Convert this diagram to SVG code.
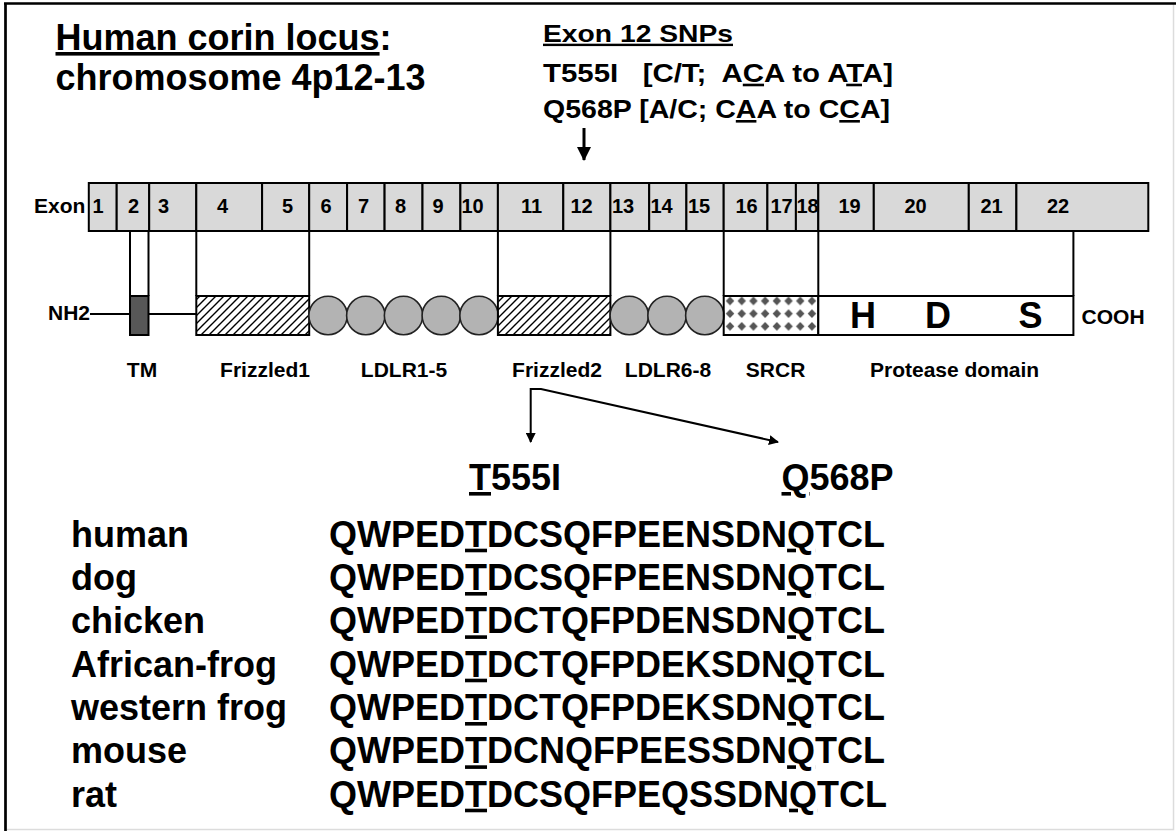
<svg xmlns="http://www.w3.org/2000/svg" width="1176" height="831" viewBox="0 0 1176 831">
<style>
text{font-family:"Liberation Sans",Arial,sans-serif;font-weight:bold;fill:#000}
.ex{font-size:20px;text-anchor:middle}
.lab{font-size:21px;text-anchor:middle}
.seq{font-size:36px}
.ln{stroke:#000;stroke-width:2;fill:none}
.cell{fill:#d9d9d9;stroke:#000;stroke-width:2}
.box{stroke:#000;stroke-width:2}
.u{text-decoration:underline}
</style>
<defs>
<pattern id="hatch" patternUnits="userSpaceOnUse" width="8" height="8">
<path d="M-2,2 L2,-2 M0,8 L8,0 M6,10 L10,6" stroke="#000" stroke-width="1.4"/>
</pattern>
<pattern id="diam" patternUnits="userSpaceOnUse" x="724.2" y="294.6" width="11.7" height="12.7">
<polygon points="5.85,1.9 10.1,6.35 5.85,10.8 1.6,6.35" fill="#555"/>
</pattern>
<marker id="ah" markerWidth="10" markerHeight="10" refX="9" refY="5" orient="auto" markerUnits="userSpaceOnUse">
<path d="M0,0 L10,5 L0,10 z" fill="#000"/>
</marker>
<marker id="ahb" markerWidth="14" markerHeight="14" refX="13" refY="7" orient="auto" markerUnits="userSpaceOnUse">
<path d="M0,0 L14,7 L0,14 z" fill="#000"/>
</marker>
</defs>
<rect x="0" y="0" width="1176" height="831" fill="#fff"/>
<rect x="5.5" y="3.5" width="1168" height="826" fill="none" stroke="#dcdcdc" stroke-width="1.5"/>
<path d="M5.5,3.5 V831 M4,3.5 H1176" stroke="#000" stroke-width="2.7" fill="none"/>

<g id="title">
<text x="55.5" y="50" font-size="36"><tspan class="u">Human corin locus</tspan>:</text>
<text x="55.5" y="90" font-size="36">chromosome 4p12-13</text>
</g>

<g id="snps">
<text x="543" y="41.7" font-size="24" textLength="190" lengthAdjust="spacingAndGlyphs"><tspan class="u">Exon 12 SNPs</tspan></text>
<text x="543" y="81.7" font-size="26" textLength="350" lengthAdjust="spacingAndGlyphs" xml:space="preserve">T555I   [C/T;  A<tspan class="u">C</tspan>A to A<tspan class="u">T</tspan>A]</text>
<text x="543" y="118" font-size="26" textLength="347" lengthAdjust="spacingAndGlyphs">Q568P [A/C; C<tspan class="u">A</tspan>A to C<tspan class="u">C</tspan>A]</text>
</g>

<g id="exons">
<text x="34" y="213" font-size="21">Exon</text>
<g id="exon1"><rect class="cell" x="88.8" y="183" width="27.9" height="48"/><text class="ex" x="98" y="213">1</text></g>
<g id="exon2"><rect class="cell" x="116.7" y="183" width="32.5" height="48"/><text class="ex" x="133.5" y="213">2</text></g>
<g id="exon3"><rect class="cell" x="149.2" y="183" width="47.1" height="48"/><text class="ex" x="163.5" y="213">3</text></g>
<g id="exon4"><rect class="cell" x="196.3" y="183" width="65.8" height="48"/><text class="ex" x="222.5" y="213">4</text></g>
<g id="exon5"><rect class="cell" x="262.1" y="183" width="47.1" height="48"/><text class="ex" x="287.5" y="213">5</text></g>
<g id="exon6"><rect class="cell" x="309.2" y="183" width="37.9" height="48"/><text class="ex" x="326" y="213">6</text></g>
<g id="exon7"><rect class="cell" x="347.1" y="183" width="37.5" height="48"/><text class="ex" x="363.5" y="213">7</text></g>
<g id="exon8"><rect class="cell" x="384.6" y="183" width="37.9" height="48"/><text class="ex" x="400.5" y="213">8</text></g>
<g id="exon9"><rect class="cell" x="422.5" y="183" width="37.9" height="48"/><text class="ex" x="438" y="213">9</text></g>
<g id="exon10"><rect class="cell" x="460.4" y="183" width="37.5" height="48"/><text class="ex" x="472.5" y="213">10</text></g>
<g id="exon11"><rect class="cell" x="497.9" y="183" width="65.4" height="48"/><text class="ex" x="531.5" y="213">11</text></g>
<g id="exon12"><rect class="cell" x="563.3" y="183" width="47.1" height="48"/><text class="ex" x="581.5" y="213">12</text></g>
<g id="exon13"><rect class="cell" x="610.4" y="183" width="38.8" height="48"/><text class="ex" x="623" y="213">13</text></g>
<g id="exon14"><rect class="cell" x="649.2" y="183" width="37.2" height="48"/><text class="ex" x="661.5" y="213">14</text></g>
<g id="exon15"><rect class="cell" x="686.4" y="183" width="37.3" height="48"/><text class="ex" x="699" y="213">15</text></g>
<g id="exon16"><rect class="cell" x="723.7" y="183" width="43.7" height="48"/><text class="ex" x="746.5" y="213">16</text></g>
<g id="exon17"><rect class="cell" x="767.4" y="183" width="28.5" height="48"/><text class="ex" x="781.5" y="213">17</text></g>
<g id="exon18"><rect class="cell" x="795.9" y="183" width="22.4" height="48"/><text class="ex" x="807.5" y="213">18</text></g>
<g id="exon19"><rect class="cell" x="818.3" y="183" width="55.5" height="48"/><text class="ex" x="849.5" y="213">19</text></g>
<g id="exon20"><rect class="cell" x="873.8" y="183" width="95" height="48"/><text class="ex" x="915.5" y="213">20</text></g>
<g id="exon21"><rect class="cell" x="968.8" y="183" width="47.6" height="48"/><text class="ex" x="991.5" y="213">21</text></g>
<g id="exon22"><rect class="cell" x="1016.4" y="183" width="131.9" height="48"/><text class="ex" x="1058" y="213">22</text></g>
</g>

<g id="nh2">
<text x="90" y="320" font-size="21" text-anchor="end">NH2</text>
<path class="ln" d="M90,314 H130 M148.5,314 H196.3" stroke-width="2.6"/>
</g>
<g id="tm">
<path class="ln" d="M130,231 V296 M148.5,231 V296"/>
<rect class="box" x="130" y="296" width="18.5" height="39" fill="#575757"/>
<text class="lab" x="142" y="377">TM</text>
</g>
<g id="frizzled1">
<path class="ln" d="M196.3,231 V296 M309.2,231 V296"/>
<rect class="box" x="196.3" y="296" width="112.9" height="39" fill="url(#hatch)"/>
<text class="lab" x="265" y="377">Frizzled1</text>
</g>
<g id="ldlr1-5" fill="#b3b3b3" stroke="#222" stroke-width="1.6">
<circle cx="328.07" cy="315.5" r="19.2"/>
<circle cx="365.81" cy="315.5" r="19.2"/>
<circle cx="403.55" cy="315.5" r="19.2"/>
<circle cx="441.29" cy="315.5" r="19.2"/>
<circle cx="479.03" cy="315.5" r="19.2"/>
<text class="lab" x="404" y="377" stroke="none" fill="#000">LDLR1-5</text>
</g>
<g id="frizzled2">
<path class="ln" d="M497.9,231 V296 M610.4,231 V296"/>
<rect class="box" x="497.9" y="296" width="112.5" height="39" fill="url(#hatch)"/>
<text class="lab" x="557" y="377">Frizzled2</text>
</g>
<g id="ldlr6-8" fill="#b3b3b3" stroke="#222" stroke-width="1.6">
<circle cx="629.28" cy="315.5" r="19.2"/>
<circle cx="667.05" cy="315.5" r="19.2"/>
<circle cx="704.82" cy="315.5" r="19.2"/>
<text class="lab" x="668" y="377" stroke="none" fill="#000">LDLR6-8</text>
</g>
<g id="srcr">
<path class="ln" d="M723.7,231 V296"/>
<rect class="box" x="723.7" y="296" width="94.6" height="39" fill="url(#diam)"/>
<text class="lab" x="775.6" y="377">SRCR</text>
</g>
<g id="protease">
<path class="ln" d="M818.3,231 V296 M1073.4,231 V296"/>
<rect class="box" x="818.3" y="296" width="255.1" height="39" fill="#fff"/>
<text x="863" y="328.3" font-size="36" text-anchor="middle">H</text>
<text x="938" y="328.3" font-size="36" text-anchor="middle">D</text>
<text x="1030.5" y="328.3" font-size="36" text-anchor="middle">S</text>
<text class="lab" x="954.6" y="377">Protease domain</text>
</g>
<g id="cooh"><text x="1081.6" y="324" font-size="21">COOH</text></g>

<g id="connectors">
<path d="M584,128 V160" stroke="#000" stroke-width="3" fill="none" marker-end="url(#ahb)"/>
<path d="M541,389 H530.7 V442" stroke="#000" stroke-width="2" fill="none" marker-end="url(#ah)"/>
<path d="M530.7,389 H541 L778,442" stroke="#000" stroke-width="2" fill="none" marker-end="url(#ah)"/>
</g>

<g id="headers">
<text x="469" y="490" font-size="36"><tspan class="u">T</tspan>555I</text>
<text x="781.5" y="490" font-size="36"><tspan class="u">Q</tspan>568P</text>
</g>

<g id="alignment">
<text x="71" y="546.7" class="seq">human</text>
<text x="71" y="590" class="seq">dog</text>
<text x="71" y="633.3" class="seq">chicken</text>
<text x="71" y="676.7" class="seq">African-frog</text>
<text x="71" y="720" class="seq">western frog</text>
<text x="71" y="763.3" class="seq">mouse</text>
<text x="71" y="806.7" class="seq">rat</text>
<text x="329" y="546.7" class="seq">QWPED<tspan class="u">T</tspan>DCSQFPEENSDN<tspan class="u">Q</tspan>TCL</text>
<text x="329" y="590" class="seq">QWPED<tspan class="u">T</tspan>DCSQFPEENSDN<tspan class="u">Q</tspan>TCL</text>
<text x="329" y="633.3" class="seq">QWPED<tspan class="u">T</tspan>DCTQFPDENSDN<tspan class="u">Q</tspan>TCL</text>
<text x="329" y="676.7" class="seq">QWPED<tspan class="u">T</tspan>DCTQFPDEKSDN<tspan class="u">Q</tspan>TCL</text>
<text x="329" y="720" class="seq">QWPED<tspan class="u">T</tspan>DCTQFPDEKSDN<tspan class="u">Q</tspan>TCL</text>
<text x="329" y="763.3" class="seq">QWPED<tspan class="u">T</tspan>DCNQFPEESSDN<tspan class="u">Q</tspan>TCL</text>
<text x="329" y="806.7" class="seq">QWPED<tspan class="u">T</tspan>DCSQFPEQSSDN<tspan class="u">Q</tspan>TCL</text>
</g>
</svg>
